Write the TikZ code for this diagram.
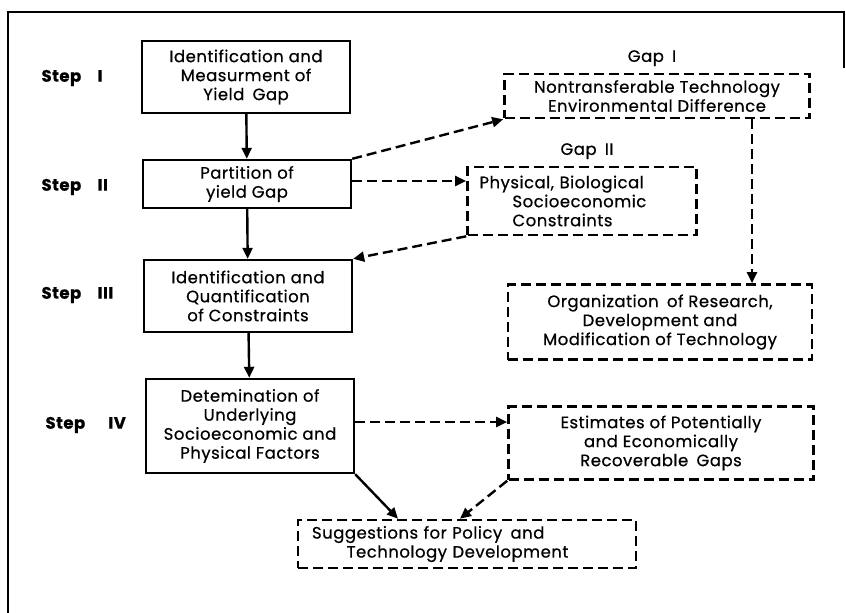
\documentclass[tikz,border=0pt]{standalone}
\usepackage{fontspec}
\setmainfont{Poppins}[FakeBold=0.6,LetterSpace=3]
\usetikzlibrary{positioning,arrows.meta}

\begin{document}
\begin{tikzpicture}[x=1pt,y=-1pt,
   font=\fontsize{16.5}{19}\selectfont,
   sbox/.style={draw,line width=2.4pt,minimum width=208pt,align=center,inner sep=0pt},
   gbox/.style={draw,line width=2.6pt,dash pattern=on 10pt off 5pt,align=center,inner sep=0pt},
   steplab/.style={anchor=west,font=\fontsize{16.5}{19}\selectfont\bfseries},
   sarr/.style={line width=2.4pt,-{Triangle[length=11pt,width=10pt]}},
   darr/.style={sarr,dash pattern=on 10pt off 5pt},
]
\useasboundingbox (0,0) rectangle (846,613);
% ----- frame
\draw[line width=2.6pt] (8,613) -- (8,12) -- (844,12) -- (844,68);

% ----- left column: the four steps
\node[sbox,minimum height=72pt] (ident) at (246,77)
   {Identification and\\Measurment of\\Yield\enspace Gap};
\node[sbox,minimum height=48pt] (part) at (247,184) {Partition of\\yield Gap};
\node[sbox,minimum height=72pt] (quant) at (248,296)
   {Identification and\\Quantification\\of Constraints};
\node[sbox,minimum height=94pt] (factors) at (250,426)
   {Detemination of\\Underlying\\Socioeconomic and\\Physical Factors};

\node[steplab] (s1) at (38,78)  {Step\quad I};
\node[steplab] (s2) at (38,187) {Step\quad II};
\node[steplab] (s3) at (38,295) {Step\quad III};
\node[steplab] (s4) at (42,425) {Step\quad\, IV};

% ----- right column: gaps and outcomes
\node[gbox,minimum width=305pt,minimum height=44pt] (gapone) at (657,96)
   {Nontransferable Technology\\Environmental Difference};
\node[above=3pt of gapone,xshift=-5pt] (gaponelab) {Gap\enspace I};
\node[gbox,minimum width=229pt,minimum height=68pt,align=left,
      text width=205pt,inner xsep=12pt] (gaptwo) at (582,201)
   {Physical, Biological\\\hspace*{2em}Socioeconomic\\\hspace*{2em}Constraints};
\node[above=3pt of gaptwo,xshift=5pt] (gaptwolab) {Gap\enspace II};
\node[gbox,minimum width=304pt,minimum height=75pt] (org) at (660,322)
   {Organization\enspace of Research,\\Development and\\Modification of Technology};
\node[gbox,minimum width=305pt,minimum height=73pt] (est) at (661,443)
   {Estimates of Potentially\\and Economically\\Recoverable\enspace Gaps};
\node[gbox,minimum width=338pt,minimum height=48pt,align=left,
      text width=310pt,inner xsep=14pt] (sugg) at (467,544)
   {Suggestions for Policy\enspace and\\\hspace*{2.1em}Technology Development};

% wires
\draw[sarr] (ident) -- (part);
\draw[sarr] (part) -- (quant);
\draw[sarr] (quant) -- (factors);
\draw[darr] (part.north east) -- (gapone.south west);
\draw[darr] ([yshift=3pt]part.east) -- ([yshift=3pt]part.east -| gaptwo.west);
\draw[darr] (gaptwo.south west) -- (quant.north east);
\draw[darr] ([xshift=95pt]gapone.south) -- ([xshift=95pt]gapone.south |- org.north);
\draw[darr] ([yshift=4pt]factors.east) -- ([yshift=4pt]factors.east -| est.west);
\draw[sarr] (factors.south east) -- ([xshift=-69pt]sugg.north);
\draw[darr] (est.south west) -- ([xshift=-7pt]sugg.north);
\end{tikzpicture}
\end{document}
